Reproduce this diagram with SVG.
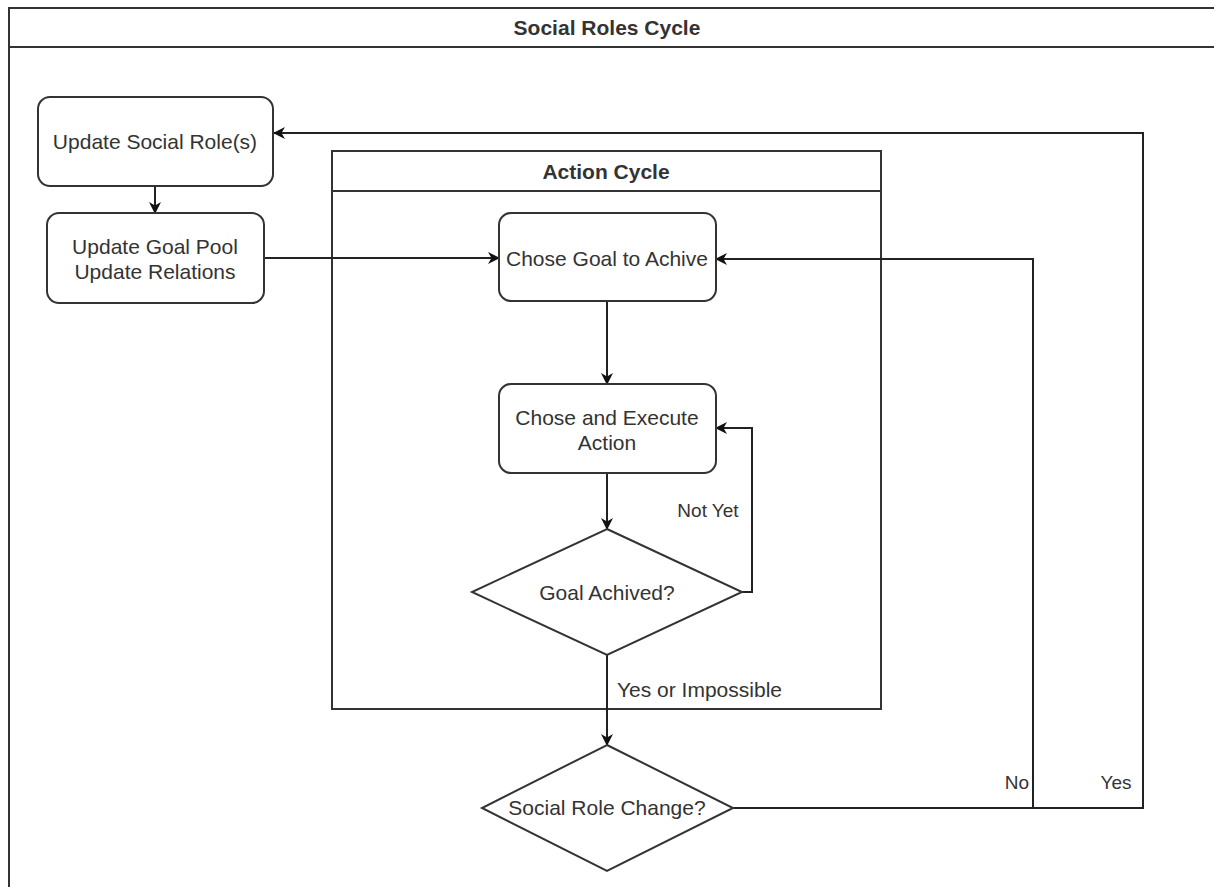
<svg xmlns="http://www.w3.org/2000/svg" width="1214" height="887" viewBox="0 0 1214 887">
<style>
.box{fill:#fff;stroke:#333;stroke-width:2}
.frame{fill:none;stroke:#333;stroke-width:2}
.edge{fill:none;stroke:#222;stroke-width:2}
text{font-family:"Liberation Sans",Arial,sans-serif;font-size:21px;fill:#333}
.c{text-anchor:middle}
.b{font-weight:bold}
.lbl{font-size:19px}
</style>
<defs>
<marker id="arr" viewBox="0 0 12 12" refX="11" refY="6" markerWidth="12" markerHeight="12" markerUnits="userSpaceOnUse" orient="auto">
<path d="M0,0 L12,6 L0,12 L3.5,6 z" fill="#111"/>
</marker>
</defs>
<rect width="1214" height="887" fill="#fff"/>
<g id="social-roles-cycle">
<rect class="frame" x="9" y="8" width="1215" height="890"/>
<line class="frame" x1="9" y1="47" x2="1214" y2="47"/>
<text class="c b" x="607" y="35">Social Roles Cycle</text>
</g>
<g id="action-cycle">
<rect class="frame" x="332" y="151" width="549" height="558"/>
<line class="frame" x1="332" y1="191" x2="881" y2="191"/>
<text class="c b" x="606" y="179">Action Cycle</text>
</g>
<g id="connectors">
<path class="edge" d="M155,186 L155,213" marker-end="url(#arr)"/>
<path class="edge" d="M264,258 L499,258" marker-end="url(#arr)"/>
<path class="edge" d="M607,301 L607,384" marker-end="url(#arr)"/>
<path class="edge" d="M607,473 L607,529" marker-end="url(#arr)"/>
<path class="edge" d="M742,592 L752,592 L752,428 L716,428" marker-end="url(#arr)"/>
<path class="edge" d="M607,655 L607,745" marker-end="url(#arr)"/>
<path class="edge" d="M733,808 L1033,808 L1033,259 L716,259" marker-end="url(#arr)"/>
<path class="edge" d="M1033,808 L1143,808 L1143,133 L274,133" marker-end="url(#arr)"/>
<text class="c lbl" x="708" y="517">Not Yet</text>
<text x="617" y="697">Yes or Impossible</text>
<text class="c lbl" x="1017" y="789">No</text>
<text class="c lbl" x="1116" y="789">Yes</text>
</g>
<g id="update-social-roles">
<rect class="box" x="38" y="97" width="235" height="89" rx="12"/>
<text class="c" x="155" y="149">Update Social Role(s)</text>
</g>
<g id="update-goal-pool">
<rect class="box" x="47" y="213" width="217" height="90" rx="12"/>
<text class="c" x="155" y="254">Update Goal Pool</text>
<text class="c" x="155" y="279">Update Relations</text>
</g>
<g id="chose-goal">
<rect class="box" x="499" y="213" width="217" height="88" rx="12"/>
<text class="c" x="607" y="266">Chose Goal to Achive</text>
</g>
<g id="chose-execute">
<rect class="box" x="499" y="384" width="217" height="89" rx="12"/>
<text class="c" x="607" y="425">Chose and Execute</text>
<text class="c" x="607" y="450">Action</text>
</g>
<g id="goal-achived">
<polygon class="box" points="607,529 742,592 607,655 472,592"/>
<text class="c" x="607" y="600">Goal Achived?</text>
</g>
<g id="social-role-change">
<polygon class="box" points="607,745 733,808 607,871 482,808"/>
<text class="c" x="607" y="815">Social Role Change?</text>
</g>
</svg>
